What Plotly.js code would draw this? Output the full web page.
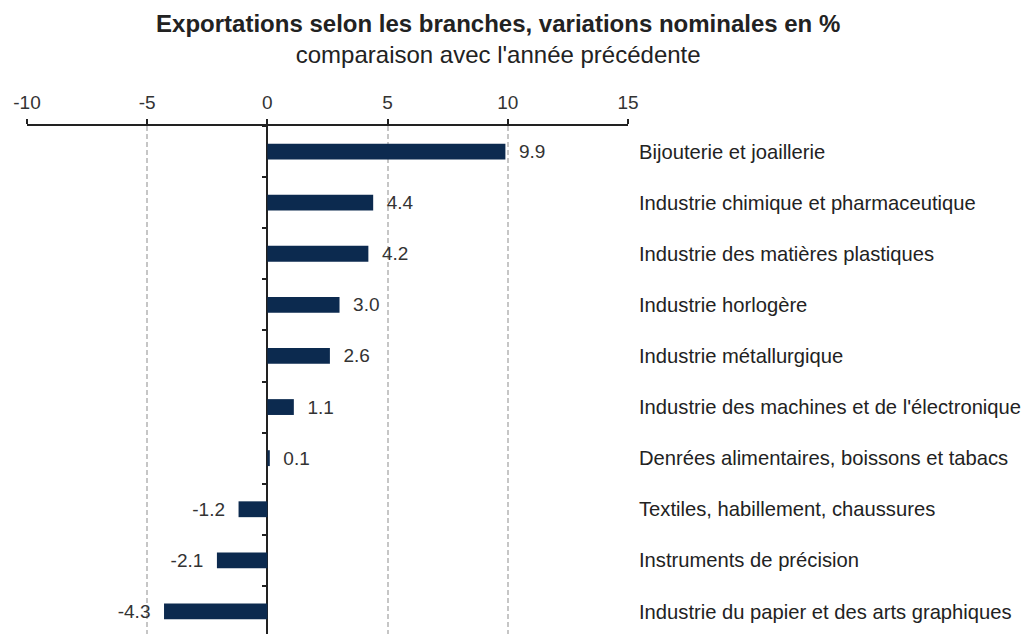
<!DOCTYPE html>
<html>
<head>
<meta charset="utf-8">
<script src="https://cdn.plot.ly/plotly-3.0.1.min.js"></script>
<style>html,body{margin:0;padding:0;overflow:hidden;background:#fff}</style>
</head>
<body>
<div id="chart" style="width:1023px;height:637px"></div>
<script>
const categories = [
  "Bijouterie et joaillerie",
  "Industrie chimique et pharmaceutique",
  "Industrie des matières plastiques",
  "Industrie horlogère",
  "Industrie métallurgique",
  "Industrie des machines et de l'électronique",
  "Denrées alimentaires, boissons et tabacs",
  "Textiles, habillement, chaussures",
  "Instruments de précision",
  "Industrie du papier et des arts graphiques"
];
const values = [9.9, 4.4, 4.2, 3.0, 2.6, 1.1, 0.1, -1.2, -2.1, -4.3];
const xTickValues = [-10, -5, 0, 5, 10, 15];

const pad = "\u00a0\u00a0";
const labels = values.map(v => v >= 0 ? pad + v.toFixed(1) : v.toFixed(1) + pad);

const xmin = -10, xmax = 15;
const zeroPos = (0 - xmin) / (xmax - xmin);

const font = "Liberation Sans, Arial, sans-serif";

const data = [
  {
    type: "bar", orientation: "h",
    x: values, y: categories,
    xaxis: "x", yaxis: "y2",
    width: 0.31,
    marker: {color: "#0c2a4f", line: {width: 0}},
    text: labels, textposition: "outside", constraintext: "none",
    textfont: {family: font, size: 19, color: "#333333"},
    outsidetextfont: {family: font, size: 19, color: "#333333"},
    cliponaxis: false, hoverinfo: "x+y"
  },
  {
    type: "bar", orientation: "h",
    x: values, y: categories,
    xaxis: "x", yaxis: "y",
    width: 0.31,
    marker: {color: "rgba(0,0,0,0)"},
    hoverinfo: "skip", showlegend: false
  }
];

const layout = {
  width: 1023, height: 637,
  margin: {l: 27, r: 395, t: 126, b: 0},
  paper_bgcolor: "#ffffff", plot_bgcolor: "#ffffff",
  showlegend: false,
  barmode: "overlay",
  title: {
    text: "<b>Exportations selon les branches, variations nominales en %</b><br>comparaison avec l'année précédente",
    x: 0.487, xanchor: "center", yref: "container", y: 0.95, yanchor: "top",
    font: {family: font, size: 24, color: "#222222"}
  },
  xaxis: {
    side: "top", range: [xmin, xmax],
    tickvals: xTickValues, ticktext: xTickValues.map(String),
    ticks: "outside", ticklen: 5, tickwidth: 1.5, tickcolor: "#222222",
    ticklabelstandoff: 3,
    showline: true, linecolor: "#222222", linewidth: 1.5,
    showgrid: true, gridcolor: "#c6c6c6", griddash: "5px,3px", gridwidth: 1.5,
    zeroline: true, zerolinecolor: "#222222", zerolinewidth: 1.5,
    tickfont: {family: font, size: 19, color: "#333333"},
    fixedrange: true
  },
  yaxis: {
    type: "category", categoryorder: "array", categoryarray: categories,
    autorange: "reversed",
    side: "right", anchor: "free", position: 1,
    showline: false, ticks: "", showgrid: false, zeroline: false,
    ticklabelstandoff: 10,
    tickfont: {family: font, size: 20.2, color: "#222222"},
    fixedrange: true
  },
  yaxis2: {
    type: "category", categoryorder: "array", categoryarray: categories,
    autorange: "reversed", overlaying: "y", matches: "y",
    side: "left", anchor: "free", position: zeroPos,
    showline: false, ticks: "outside", tickson: "boundaries", ticklen: 5,
    tickwidth: 1.5, tickcolor: "#222222",
    showticklabels: false, showgrid: false, zeroline: false,
    fixedrange: true
  }
};

Plotly.newPlot("chart", data, layout, {displayModeBar: false, responsive: false});
</script>
</body>
</html>
